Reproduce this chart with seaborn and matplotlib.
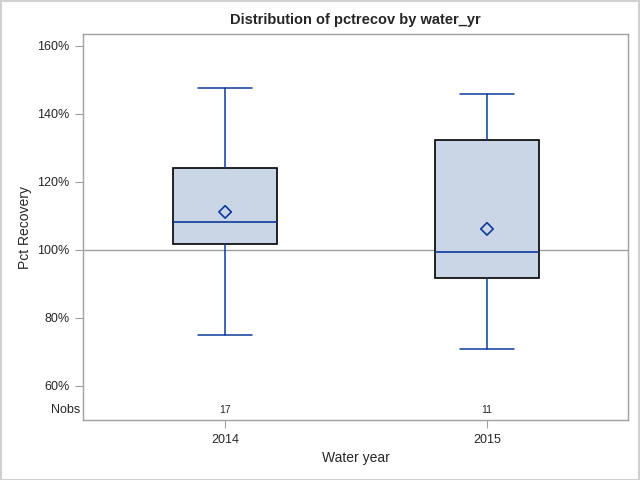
import matplotlib
matplotlib.use('Agg')
import matplotlib.pyplot as plt
import seaborn as sns
import pandas as pd

# Box statistics (pct recovery)
years = ['2014', '2015']
whisker_lo = [75.0, 70.9]
q1 = [101.8, 91.8]
median = [108.2, 99.4]
q3 = [124.1, 132.4]
whisker_hi = [147.6, 145.9]
means = [111.2, 106.2]
nobs = [17, 11]
yticks = [60, 80, 100, 120, 140, 160]

blue = '#0b3a9a'
fill = '#cad5e5'
gray = '#a0a0a0'

sns.set_style('white')
plt.rcParams['font.family'] = ['Liberation Sans', 'DejaVu Sans']

fig = plt.figure(figsize=(6.4, 4.8), dpi=100)
fig.patches.append(plt.Rectangle((0.001, 0.001), 0.998, 0.997, transform=fig.transFigure,
                                 fill=False, edgecolor='#d0d0d0', lw=1.5))
ax = fig.add_axes([0.13, 0.125, 0.851, 0.804])

# Reference line at 100%
ax.axhline(100, color=gray, lw=1, zorder=0)

stats = []
for i, yr in enumerate(years):
    stats.append({'label': yr, 'whislo': whisker_lo[i], 'q1': q1[i], 'med': median[i],
                  'q3': q3[i], 'whishi': whisker_hi[i], 'fliers': []})

ax.bxp(stats, positions=[0, 1], widths=0.4, capwidths=0.205, showfliers=False,
       patch_artist=True,
       boxprops=dict(facecolor=fill, edgecolor='black', lw=1.2),
       medianprops=dict(color=blue, lw=1.2),
       whiskerprops=dict(color=blue, lw=1.1),
       capprops=dict(color=blue, lw=1.1))

# Mean markers
mean_df = pd.DataFrame({'pos': [0, 1], 'mean': means})
sns.scatterplot(data=mean_df, x='pos', y='mean', marker='D', s=40, facecolor='none',
                edgecolor=blue, linewidth=1.2, ax=ax, zorder=5)

# Nobs row
for i, n in enumerate(nobs):
    ax.text(i, 53, str(n), ha='center', va='center', fontsize=7.5)
ax.text(-0.005, 53, 'Nobs', transform=ax.get_yaxis_transform(), ha='right', va='center',
        fontsize=9)

ax.set_xlim(-0.542, 1.538)
ax.set_ylim(50, 163.5)
ax.set_xticks([0, 1])
ax.set_xticklabels(years)
ax.set_yticks(yticks)
ax.set_yticklabels([f'{t}%' for t in yticks])
ax.tick_params(axis='both', direction='out', length=6, color=gray, labelsize=9,
               left=True, bottom=True, pad=4)
for sp in ax.spines.values():
    sp.set_color(gray)
    sp.set_linewidth(1)

ax.set_xlabel('Water year', fontsize=10)
ax.set_ylabel('Pct Recovery', fontsize=10)
ax.set_title('Distribution of pctrecov by water_yr', fontsize=10.5, fontweight='bold', pad=7)

fig.savefig('out.png', dpi=100)
